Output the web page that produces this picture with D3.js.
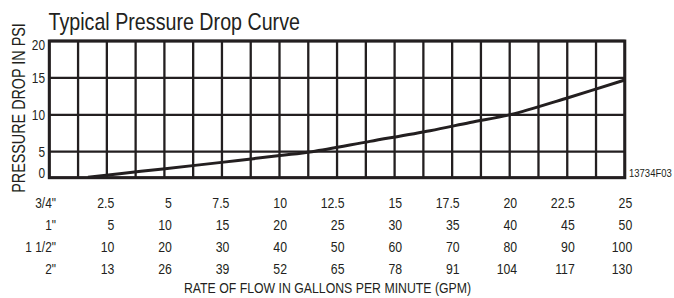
<!DOCTYPE html>
<html>
<head>
<meta charset="utf-8">
<script src="https://cdn.jsdelivr.net/npm/d3@7"></script>
<style>
  html, body { margin: 0; padding: 0; background: #fff; }
  svg text { font-family: "Liberation Sans", Arial, sans-serif; fill: #231f20; }
</style>
</head>
<body>
<svg id="chart" width="674" height="298"></svg>
<script>
// ---- data ----
const title = "Typical Pressure Drop Curve";
const yTitle = "PRESSURE DROP IN PSI";
const xTitle = "RATE OF FLOW IN GALLONS PER MINUTE (GPM)";
const figCode = "13734F03";
const yTicks = [0, 5, 10, 15, 20];
// pipe sizes and their flow tick labels (GPM)
const pipeSizes = ['3/4"', '1"', '1 1/2"', '2"'];
const flow34 = [2.5, 5, 7.5, 10, 12.5, 15, 17.5, 20, 22.5, 25];
const flow1 = [5, 10, 15, 20, 25, 30, 35, 40, 45, 50];
const flow112 = [10, 20, 30, 40, 50, 60, 70, 80, 90, 100];
const flow2 = [13, 26, 39, 52, 65, 78, 91, 104, 117, 130];
// curve (flow in GPM on 3/4" scale, pressure drop in PSI)
const curveFlow = [1.68, 3.98, 6.42, 8.2, 10.02, 11.41, 13.93, 16.54, 18.28, 20.06, 22.43, 25.0];
const curvePsi  = [0.1, 1.23, 2.42, 3.31, 4.27, 5.0, 6.4, 7.85, 8.96, 10.04, 12.21, 14.72];

// ---- layout ----
const svg = d3.select("#chart");
const ink = "#231f20";
const pL = 49.3, pR = 624.8, pT = 41, pB = 177.7;
const NARROW = 0.82; // condensed face emulation (horizontal squeeze)

const tr = (x, y, rot) =>
  `translate(${x},${y})` + (rot ? ` rotate(${rot})` : "") + ` scale(${NARROW},1)`;

const x = d3.scaleLinear().domain([0, 25]).range([pL, pR]);
// chart's vertical axis: bottom band is compressed in the original
const y = d3.scaleLinear().domain([0, 5, 20]).range([pB, 151.7, pT]);

// grid
const g = svg.append("g");
const vLines = d3.range(0, 25.0001, 1.25);
g.selectAll("line.v").data(vLines).join("line")
  .attr("class", "v")
  .attr("x1", d => x(d)).attr("x2", d => x(d))
  .attr("y1", pT).attr("y2", pB)
  .attr("stroke", ink).attr("stroke-width", 2.3);
g.selectAll("line.h").data(yTicks).join("line")
  .attr("class", "h")
  .attr("x1", pL).attr("x2", pR)
  .attr("y1", d => y(d)).attr("y2", d => y(d))
  .attr("stroke", ink).attr("stroke-width", 2.3);
g.append("rect")
  .attr("x", pL).attr("y", pT)
  .attr("width", pR - pL).attr("height", pB - pT)
  .attr("fill", "none").attr("stroke", ink).attr("stroke-width", 3);

// curve
const pts = curveFlow.map((f, i) => [f, curvePsi[i]]);
svg.append("path")
  .datum(pts)
  .attr("d", d3.line().x(d => x(d[0])).y(d => y(d[1])).curve(d3.curveCatmullRom.alpha(0.5)))
  .attr("fill", "none").attr("stroke", ink).attr("stroke-width", 3);

// y tick labels
svg.selectAll("text.yt").data(yTicks).join("text")
  .attr("class", "yt")
  .attr("transform", d => tr(45, Math.min(Math.max(y(d), pT + 3.5), pB - 4.5)))
  .attr("dy", "0.36em")
  .attr("text-anchor", "end")
  .attr("font-size", 14.5)
  .text(d => d);

// title
svg.append("text").attr("transform", tr(48.5, 29.5))
  .attr("font-size", 24).text(title);

// y title
svg.append("text")
  .attr("transform", tr(25, 108, -90))
  .attr("text-anchor", "middle")
  .attr("font-size", 17.5)
  .text(yTitle);

// figure code
svg.append("text").attr("transform", tr(629, 177))
  .attr("font-size", 11.6).text(figCode);

// flow table
const rows = d3.scalePoint().domain(pipeSizes).range([207.5, 273.5]);
const tableVals = [flow34, flow1, flow112, flow2];
pipeSizes.forEach((p, i) => {
  svg.append("text").attr("transform", tr(56, rows(p)))
    .attr("text-anchor", "end").attr("font-size", 14.5).text(p);
  svg.selectAll("text.r" + i).data(tableVals[i]).join("text")
    .attr("class", "r" + i)
    .attr("transform", (d, j) => tr(x(flow34[j]) + 7.5, rows(p)))
    .attr("text-anchor", "end")
    .attr("font-size", 15)
    .text(d => d);
});

// x title
svg.append("text").attr("transform", tr(327.5, 293.3))
  .attr("text-anchor", "middle").attr("font-size", 15).text(xTitle);
</script>
</body>
</html>
